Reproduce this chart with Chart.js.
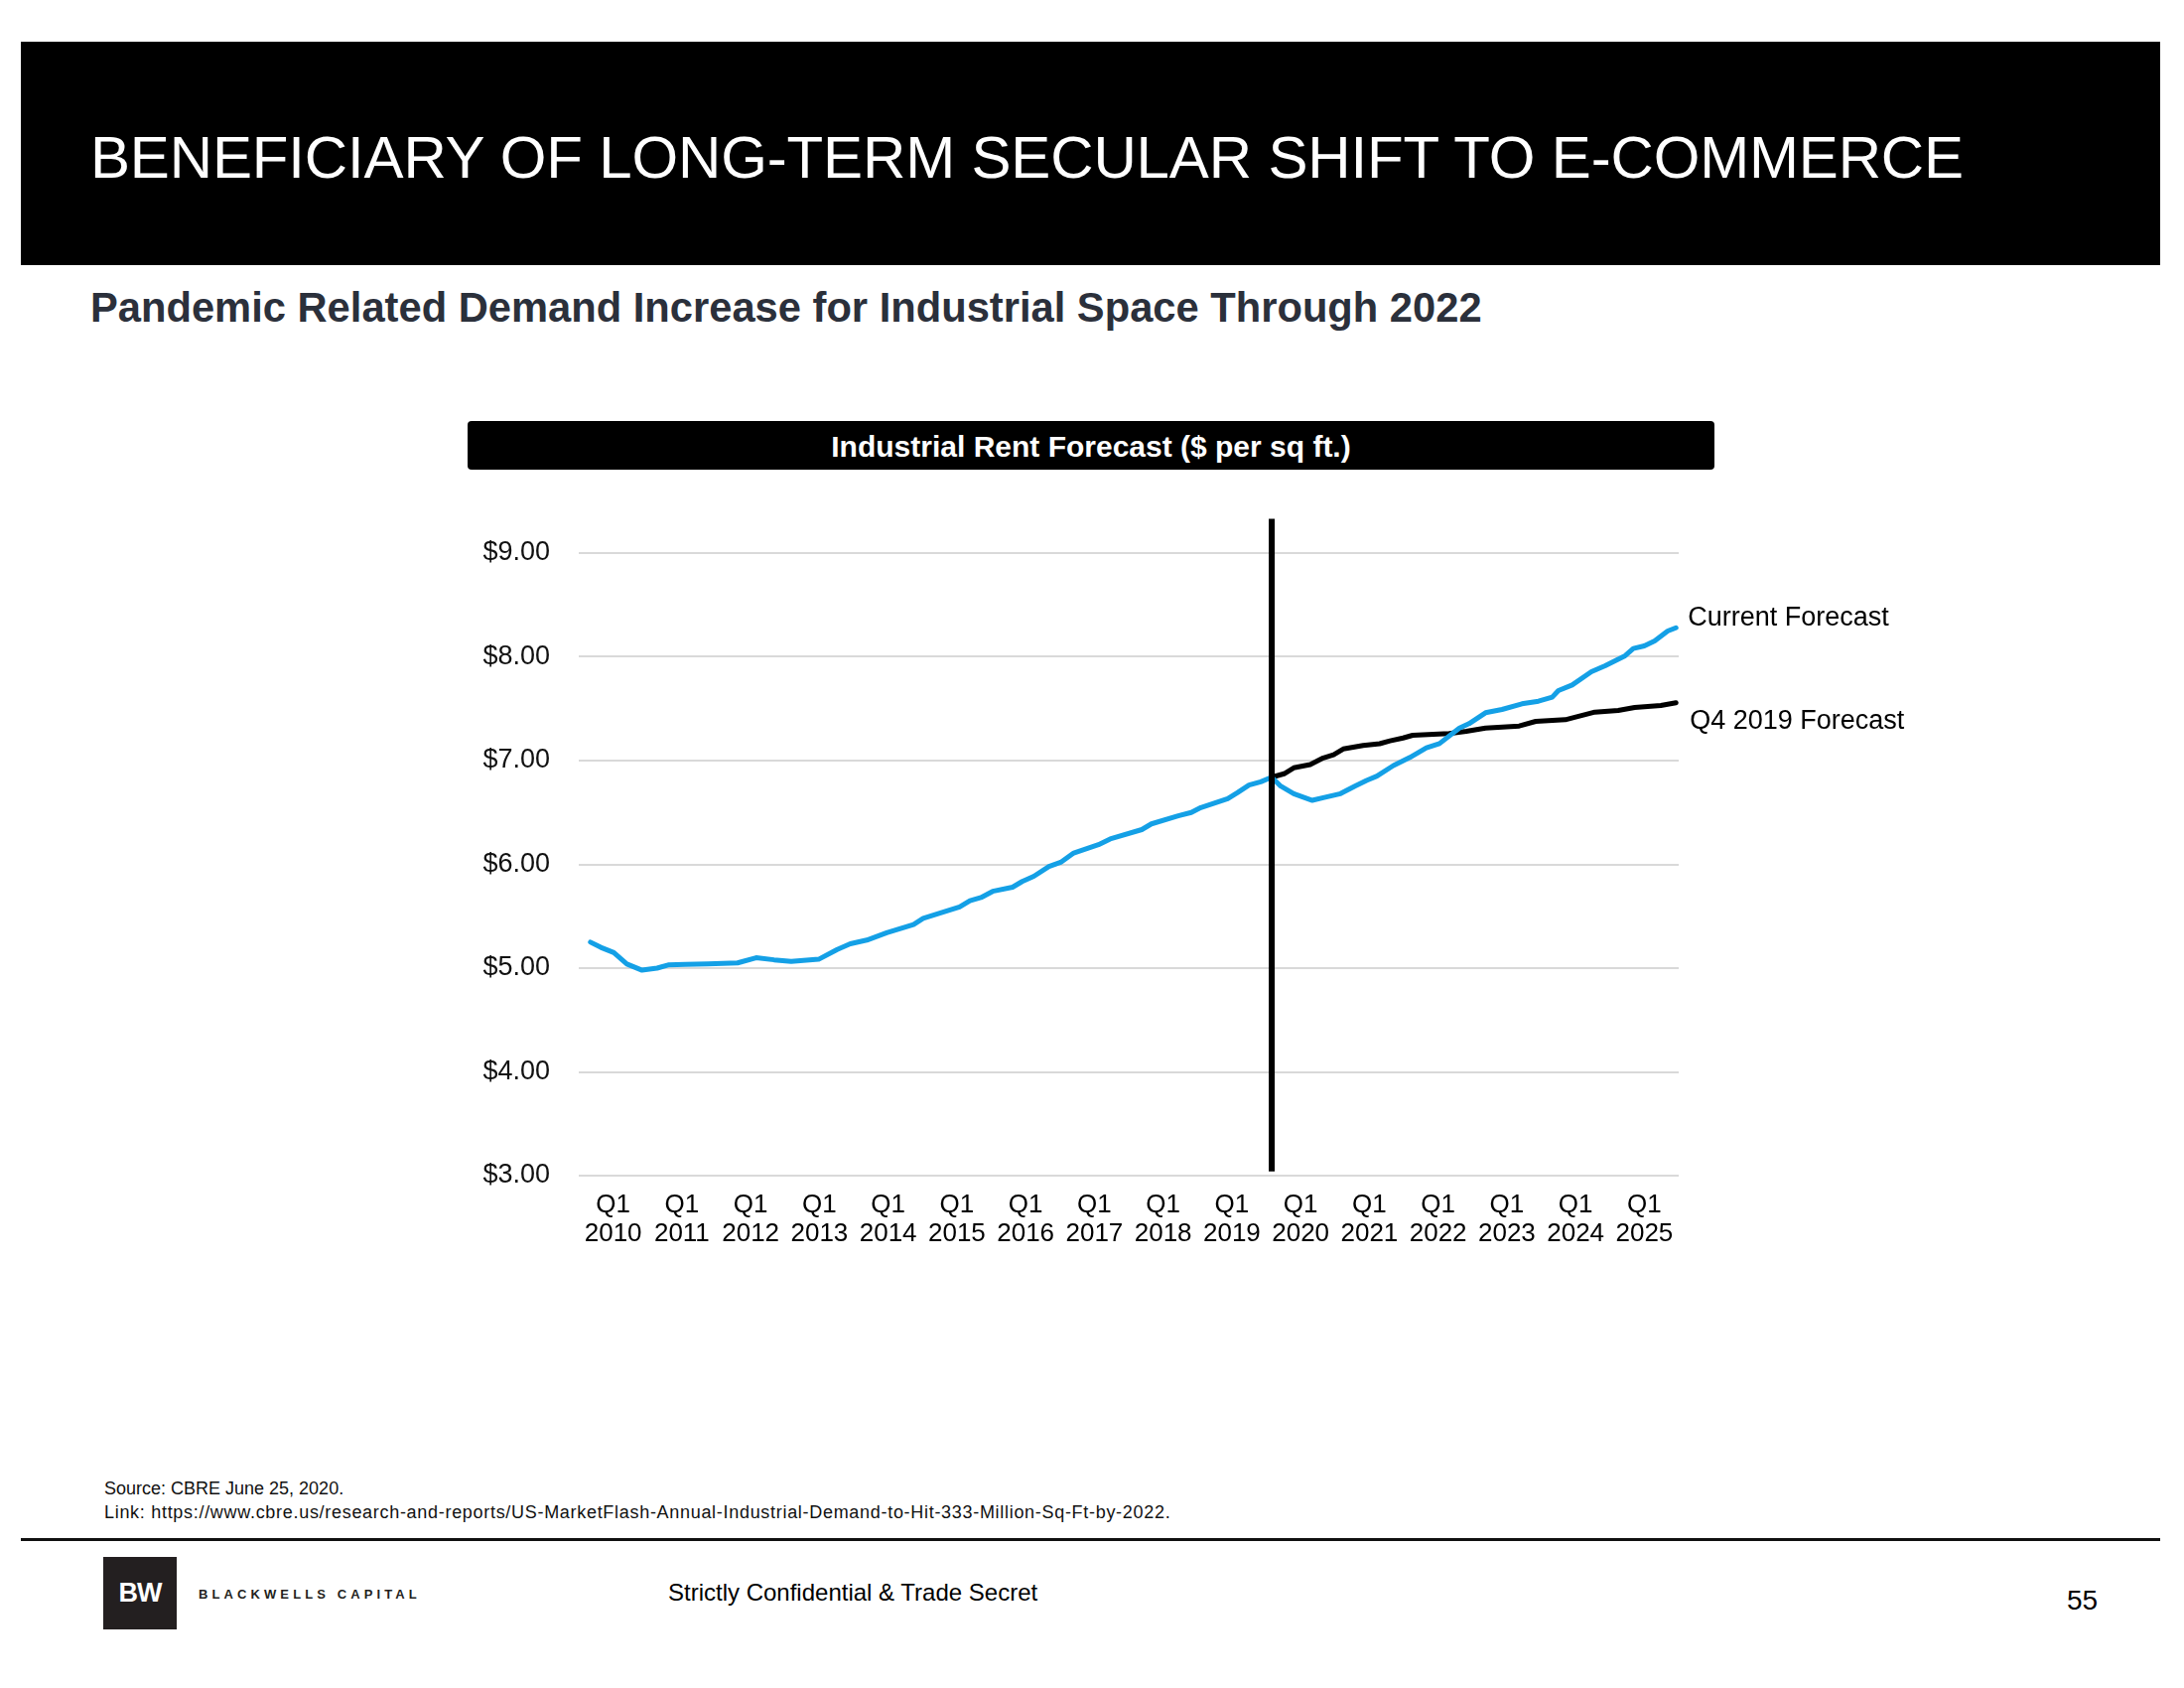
<!DOCTYPE html>
<html>
<head>
<meta charset="utf-8">
<script src="https://cdn.jsdelivr.net/npm/chart.js@4.4.1/dist/chart.umd.min.js"></script>
<style>
  html, body { margin: 0; padding: 0; background: #fff; }
  body { width: 2200px; height: 1700px; position: relative; overflow: hidden; font-family: "Liberation Sans", Arial, sans-serif; }
  .abs { position: absolute; white-space: nowrap; line-height: 1; }
  #band { position: absolute; left: 21px; top: 42px; width: 2155px; height: 225px; background: #000; }
  #title { left: 91px; top: 129px; font-size: 60px; color: #fff; letter-spacing: -0.15px; }
  #subtitle { left: 91px; top: 289px; font-size: 41.7px; font-weight: bold; color: #2b303b; }
  #chartTitle { position: absolute; left: 471px; top: 424px; width: 1256px; height: 49px; background: #000; border-radius: 4px;
    color: #fff; font-weight: bold; font-size: 30px; text-align: center; line-height: 52px; }
  #chartWrap { position: absolute; left: 460px; top: 500px; width: 1500px; height: 780px; }
  #src1 { left: 105px; top: 1490px; font-size: 18px; color: #111; }
  #src2 { left: 105px; top: 1514px; font-size: 18px; color: #111; letter-spacing: 0.7px; }
  #rule { position: absolute; left: 21px; top: 1549px; width: 2155px; height: 3px; background: #111; }
  #logo { position: absolute; left: 104px; top: 1568px; width: 74px; height: 73px; background: #231f20; color: #fff;
    font-weight: bold; font-size: 27px; text-align: center; line-height: 73px; letter-spacing: -1px; }
  #brand { left: 200px; top: 1599px; font-size: 13px; font-weight: bold; color: #231f20; letter-spacing: 4.1px; }
  #conf { left: 673px; top: 1592px; font-size: 24px; color: #000; }
  #page { left: 2082px; top: 1598px; font-size: 28px; color: #000; }
</style>
</head>
<body>
<div id="band"></div>
<div id="title" class="abs">BENEFICIARY OF LONG-TERM SECULAR SHIFT TO E-COMMERCE</div>
<div id="subtitle" class="abs">Pandemic Related Demand Increase for Industrial Space Through 2022</div>
<div id="chartTitle">Industrial Rent Forecast ($ per sq ft.)</div>
<div id="chartWrap"><canvas id="c" width="1500" height="780"></canvas></div>
<div id="src1" class="abs">Source: CBRE June 25, 2020.</div>
<div id="src2" class="abs">Link: https://www.cbre.us/research-and-reports/US-MarketFlash-Annual-Industrial-Demand-to-Hit-333-Million-Sq-Ft-by-2022.</div>
<div id="rule"></div>
<div id="logo">BW</div>
<div id="brand" class="abs">BLACKWELLS CAPITAL</div>
<div id="conf" class="abs">Strictly Confidential &amp; Trade Secret</div>
<div id="page" class="abs">55</div>

<script>
// ---- Data (x = fractional year, y = $ per sq ft) ----
const tickYears = [2010, 2011, 2012, 2013, 2014, 2015, 2016, 2017, 2018, 2019, 2020, 2021, 2022, 2023, 2024, 2025];
const tickQuarter = "Q1";
const yTicks = [3, 4, 5, 6, 7, 8, 9];

const currentX = [2009.67, 2009.82, 2010.01, 2010.20, 2010.42, 2010.64, 2010.80, 2011.05, 2011.38, 2011.81,
  2012.08, 2012.34, 2012.59, 2012.99, 2013.26, 2013.45, 2013.69, 2013.98, 2014.37, 2014.51,
  2015.04, 2015.19, 2015.35, 2015.52, 2015.81, 2015.95, 2016.12, 2016.34, 2016.51, 2016.70,
  2017.06, 2017.23, 2017.69, 2017.83, 2018.22, 2018.41, 2018.55, 2018.94, 2019.08, 2019.25,
  2019.42, 2019.58, 2019.71, 2019.90, 2020.17, 2020.33, 2020.58, 2020.79, 2020.96, 2021.11,
  2021.35, 2021.59, 2021.83, 2022.02, 2022.31, 2022.45, 2022.69, 2022.93, 2023.22, 2023.46,
  2023.66, 2023.75, 2023.95, 2024.23, 2024.43, 2024.72, 2024.84, 2025.00, 2025.15, 2025.34, 2025.46];
const currentForecast = [5.25, 5.20, 5.15, 5.04, 4.98, 5.00, 5.03, 5.035, 5.04, 5.05,
  5.10, 5.08, 5.065, 5.085, 5.18, 5.235, 5.27, 5.34, 5.42, 5.48,
  5.59, 5.65, 5.68, 5.74, 5.78, 5.835, 5.885, 5.98, 6.02, 6.11,
  6.19, 6.245, 6.335, 6.39, 6.467, 6.50, 6.547, 6.633, 6.69, 6.764,
  6.796, 6.84, 6.754, 6.681, 6.617, 6.643, 6.681, 6.754, 6.809, 6.85,
  6.952, 7.03, 7.123, 7.164, 7.314, 7.356, 7.461, 7.493, 7.547, 7.572,
  7.611, 7.675, 7.729, 7.856, 7.914, 8.01, 8.08, 8.105, 8.153, 8.249, 8.28];

const q4X = [2019.58, 2019.76, 2019.90, 2020.14, 2020.33, 2020.48, 2020.62, 2020.91, 2021.15, 2021.30,
  2021.49, 2021.63, 2022.16, 2022.41, 2022.69, 2023.18, 2023.42, 2023.85, 2024.28, 2024.62,
  2024.86, 2025.24, 2025.46];
const q4Forecast = [6.84, 6.873, 6.93, 6.962, 7.026, 7.057, 7.112, 7.146, 7.163, 7.19,
  7.218, 7.244, 7.26, 7.282, 7.314, 7.333, 7.378, 7.394, 7.467, 7.483,
  7.512, 7.531, 7.557];

const dividerX = [2019.58, 2019.58];
const dividerY = [3.04, 9.33];

const seriesNames = ["Current Forecast", "Q4 2019 Forecast"];

// ---- Chart ----
const FONT = "'Liberation Sans', Arial, sans-serif";
const toPts = (xs, ys) => xs.map((x, i) => ({ x: x, y: ys[i] }));

const endLabels = {
  id: 'endLabels',
  afterDatasetsDraw(chart) {
    const ctx = chart.ctx;
    ctx.save();
    ctx.font = "27px " + FONT;
    ctx.fillStyle = "#000";
    ctx.textBaseline = "middle";
    ctx.textAlign = "left";
    const specs = [{ ds: 1, dx: 12, dy: -10 }, { ds: 2, dx: 14, dy: 19 }];
    specs.forEach(s => {
      const meta = chart.getDatasetMeta(s.ds);
      const p = meta.data[meta.data.length - 1];
      ctx.fillText(chart.data.datasets[s.ds].label, p.x + s.dx, p.y + s.dy);
    });
    ctx.restore();
  }
};

new Chart(document.getElementById('c'), {
  type: 'line',
  data: {
    datasets: [
      { label: 'divider', data: toPts(dividerX, dividerY), borderColor: '#000', borderWidth: 6,
        pointRadius: 0, clip: false, borderCapStyle: 'butt' },
      { label: seriesNames[0], data: toPts(currentX, currentForecast), borderColor: '#14a0e6', borderWidth: 5,
        pointRadius: 0, tension: 0, borderJoinStyle: 'round', borderCapStyle: 'round' },
      { label: seriesNames[1], data: toPts(q4X, q4Forecast), borderColor: '#000', borderWidth: 5,
        pointRadius: 0, tension: 0, borderJoinStyle: 'round', borderCapStyle: 'round' }
    ]
  },
  options: {
    responsive: false,
    animation: false,
    devicePixelRatio: 1,
    layout: { padding: { top: 57, right: 269, left: 0, bottom: 0 } },
    plugins: { legend: { display: false }, tooltip: { enabled: false } },
    scales: {
      x: {
        type: 'linear',
        min: 2009.5,
        max: 2025.5,
        afterBuildTicks: (s) => { s.ticks = tickYears.map(v => ({ value: v })); },
        afterFit: (s) => { s.height = 96; },
        grid: { display: false, drawTicks: false },
        border: { display: false },
        ticks: {
          autoSkip: false, maxRotation: 0, minRotation: 0, padding: 15,
          color: '#000',
          font: { family: FONT, size: 26, lineHeight: 1.12 },
          callback: (v) => [tickQuarter, String(v)]
        }
      },
      y: {
        min: 3,
        max: 9,
        afterBuildTicks: (s) => { s.ticks = yTicks.map(v => ({ value: v })); },
        afterFit: (s) => { s.width = 123; },
        grid: { color: '#d9d9d9', lineWidth: 2, drawTicks: false },
        border: { display: false },
        ticks: {
          padding: 29,
          color: '#111',
          font: { family: FONT, size: 27 },
          callback: (v) => '$' + Number(v).toFixed(2)
        }
      }
    }
  },
  plugins: [endLabels]
});
</script>
</body>
</html>
